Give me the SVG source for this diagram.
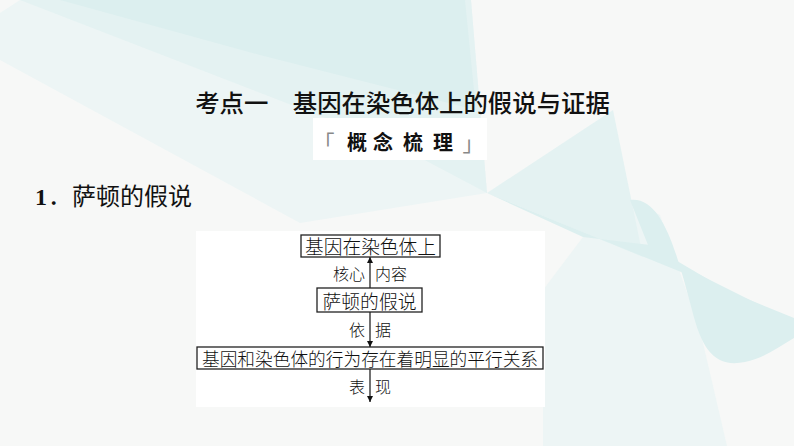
<svg xmlns="http://www.w3.org/2000/svg" width="794" height="446" viewBox="0 0 794 446">
<defs>
<style>
.bg{fill:#f7f8f7}
.t1{fill:#dcefef}
.t2{fill:#e4f2f2}
.t3{fill:#edf5f5}
.title{font-family:"Noto Sans CJK SC","Noto Sans",sans-serif;font-size:24.4px;font-weight:500;fill:#111}
.sub{font-family:"Noto Sans CJK SC","Noto Sans",sans-serif;font-size:20px;font-weight:700;fill:#111;text-anchor:middle}
.br{font-family:"Noto Sans CJK SC",sans-serif;font-size:21px;fill:#888;text-anchor:middle}
.h1{font-family:"Noto Sans CJK SC","Noto Sans",sans-serif;font-size:24px;fill:#111}
.num{font-family:"Liberation Serif",serif;font-size:24px;font-weight:700;fill:#111}
.box{fill:#fff;stroke:#222;stroke-width:1.3}
.bt{font-family:"Noto Sans CJK SC",sans-serif;font-size:19px;fill:#111;text-anchor:middle;font-weight:300}
.lb{font-family:"Noto Sans CJK SC",sans-serif;font-size:16px;fill:#111;font-weight:300}
.ln{stroke:#111;stroke-width:1.2;fill:none}
</style>
<marker id="ah" markerUnits="userSpaceOnUse" markerWidth="6" markerHeight="10" viewBox="0 0 6 10" refX="6" refY="5" orient="auto">
<path d="M0,2 L6,5 L0,8 Z" fill="#111"/>
</marker>
</defs>
<g id="background">
<rect class="bg" x="0" y="0" width="794" height="446"/>
<polygon class="t3" points="0,13 20,0 471,0 487,193 300,223 0,60"/>
<polygon class="t2" points="20,0 471,0 487,193 400,147"/>
<polygon class="t1" points="60,0 465,0 476,110 260,55"/>
<polygon class="t3" points="543,290 583,237 630,200 660,215 700,330 727,446 543,446"/>
<polygon class="t2" points="487,193 613,110 643,257"/>
<polygon class="t1" points="487,193 583,237 650,245 794,330 794,318"/>
<path class="t1" d="M630,200 C662,196 676,250 692,310 C702,350 715,368 745,362 C765,358 780,346 794,338 L794,322 L650,250 Z"/>
</g>
<g id="heading">
<text class="title" x="402.5" y="112" text-anchor="middle">考点一　基因在染色体上的假说与证据</text>
<rect x="313" y="118" width="174" height="42" fill="#fff"/>
<text class="br" x="324" y="150">「</text>
<text class="sub" x="357" y="150">概</text>
<text class="sub" x="383" y="150">念</text>
<text class="sub" x="413" y="150">梳</text>
<text class="sub" x="443" y="150">理</text>
<text class="br" x="473" y="151">」</text>
<text class="num" x="35" y="205">1</text>
<text class="h1" x="48" y="205">．萨顿的假说</text>
</g>
<rect id="panel" x="196" y="231" width="349" height="176" fill="#fff"/>
<g id="connectors">
<line class="ln" x1="370" y1="288" x2="370" y2="257" marker-end="url(#ah)"/>
<line class="ln" x1="370" y1="312" x2="370" y2="347" marker-end="url(#ah)"/>
<line class="ln" x1="370" y1="369" x2="370" y2="402" marker-end="url(#ah)"/>
<text class="lb" x="365" y="280" text-anchor="end">核心</text>
<text class="lb" x="375" y="280">内容</text>
<text class="lb" x="365" y="336" text-anchor="end">依</text>
<text class="lb" x="375" y="336">据</text>
<text class="lb" x="365" y="393" text-anchor="end">表</text>
<text class="lb" x="375" y="393">现</text>
</g>
<g id="node1">
<rect class="box" x="301" y="235" width="139" height="22"/>
<text class="bt" x="370.5" y="253.5" textLength="131" lengthAdjust="spacingAndGlyphs">基因在染色体上</text>
</g>
<g id="node2">
<rect class="box" x="317" y="288" width="105" height="24"/>
<text class="bt" x="369.5" y="308.5" textLength="94" lengthAdjust="spacingAndGlyphs">萨顿的假说</text>
</g>
<g id="node3">
<rect class="box" x="197" y="347" width="346" height="22"/>
<text class="bt" x="370" y="365.5" style="font-size:18.7px" textLength="336" lengthAdjust="spacingAndGlyphs">基因和染色体的行为存在着明显的平行关系</text>
</g>
</svg>
